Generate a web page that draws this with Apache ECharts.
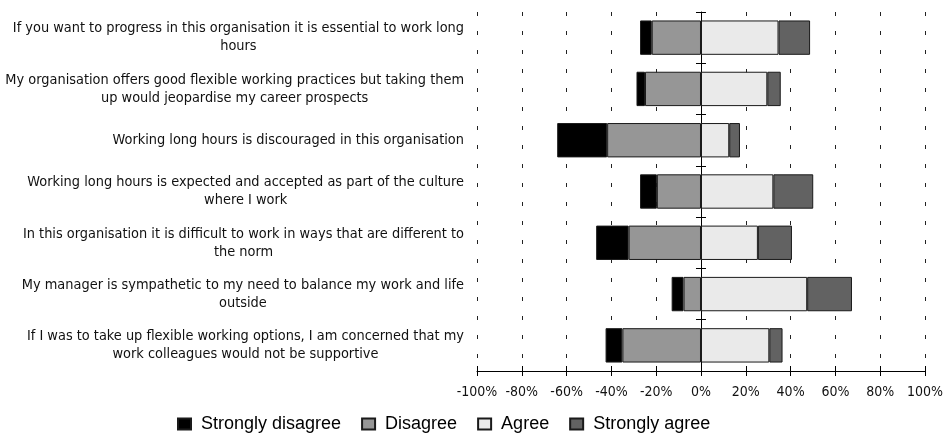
<!DOCTYPE html>
<html>
<head>
<meta charset="utf-8">
<script src="https://cdn.jsdelivr.net/npm/echarts@6/dist/echarts.min.js"></script>
<style>
  html, body { margin: 0; padding: 0; background: #fff; }
  #chart { width: 946px; height: 438px; }
</style>
</head>
<body>
<div id="chart"></div>
<script>
// Survey statements, top to bottom
const statements = [
  "If you want to progress in this organisation it is essential to work long\nhours",
  "My organisation offers good flexible working practices but taking them\nup would jeopardise my career prospects",
  "Working long hours is discouraged in this organisation",
  "Working long hours is expected and accepted as part of the culture\nwhere I work",
  "In this organisation it is difficult to work in ways that are different to\nthe norm",
  "My manager is sympathetic to my need to balance my work and life\noutside",
  "If I was to take up flexible working options, I am concerned that my\nwork colleagues would not be supportive"
];

// Share of respondents (%) per answer
const stronglyDisagree = [5.2, 3.8, 22.3, 7.5, 14.5, 5.3, 7.5];
const disagree         = [22.0, 25.0, 41.9, 19.7, 32.3, 7.8, 35.1];
const agree            = [34.6, 29.6, 12.6, 32.3, 25.4, 47.4, 30.5];
const stronglyAgree    = [14.1, 6.0, 4.8, 17.8, 15.2, 20.0, 5.9];

const legendNames = ["Strongly disagree", "Disagree", "Agree", "Strongly agree"];
const axisMin = -100, axisMax = 100, axisStep = 20;

const labelFont = "'DejaVu Sans Condensed', 'DejaVu Sans', sans-serif";
const labelSize = 14.4;
const negate = arr => arr.map(v => -v);

const chart = echarts.init(document.getElementById('chart'), null, { renderer: 'canvas' });

const barBase = {
  type: 'bar',
  xAxisIndex: 0,
  yAxisIndex: 0,
  barCategoryGap: '33%',
  animation: false
};

chart.setOption({
  backgroundColor: '#ffffff',
  animation: false,
  grid: { left: 477, right: 16, top: 12, bottom: 67, containLabel: false },
  legend: {
    data: legendNames,
    icon: 'rect',
    left: 172,
    top: 410,
    itemWidth: 13,
    itemHeight: 11,
    itemGap: 20,
    textStyle: {
      fontFamily: "'Liberation Sans', Arial, sans-serif", fontSize: 18, color: '#000',
      padding: [0, 0, 0, 5]
    }
  },
  xAxis: [
    {
      type: 'value',
      min: axisMin, max: axisMax, interval: axisStep,
      position: 'bottom',
      axisLine: { show: true, lineStyle: { color: '#000', width: 1 } },
      axisTick: { show: true, length: 5, lineStyle: { color: '#000' } },
      axisLabel: {
        formatter: v => v + '%',
        margin: 14,
        fontFamily: labelFont, fontSize: 14, color: '#111'
      },
      splitLine: { show: true, lineStyle: { color: '#222', width: 1, type: [4, 15] } }
    },
    {
      type: 'value',
      min: axisMin, max: axisMax, interval: axisStep,
      position: 'bottom',
      axisLine: { show: false },
      axisTick: { show: true, inside: true, length: 5, lineStyle: { color: '#000' } },
      axisLabel: { show: false },
      splitLine: { show: false }
    }
  ],
  yAxis: [
    {
      type: 'category',
      data: statements,
      inverse: true,
      position: 'left',
      axisLine: { show: false, onZero: false },
      axisTick: { show: false },
      splitLine: { show: false },
      axisLabel: {
        margin: 13,
        fontFamily: labelFont, fontSize: labelSize, color: '#111',
        lineHeight: 18,
        formatter: v => v.split('\n').map(line => '{c|' + line + '}').join('\n'),
        rich: { c: { align: 'center', fontFamily: labelFont, fontSize: labelSize, lineHeight: 18, color: '#111' } }
      }
    },
    {
      type: 'category',
      data: statements,
      inverse: true,
      position: 'left',
      axisLine: { show: true, onZero: true, lineStyle: { color: '#000', width: 1 } },
      axisTick: { show: true, length: 5, lineStyle: { color: '#000' } },
      axisLabel: { show: false },
      splitLine: { show: false }
    },
    {
      type: 'category',
      data: statements,
      inverse: true,
      position: 'left',
      axisLine: { show: false, onZero: true },
      axisTick: { show: true, inside: true, length: 5, lineStyle: { color: '#000' } },
      axisLabel: { show: false },
      splitLine: { show: false }
    }
  ],
  series: [
    Object.assign({}, barBase, {
      name: 'Disagree', stack: 'answers', data: negate(disagree),
      itemStyle: { color: '#969696', borderColor: '#1a1a1a', borderWidth: 1 }
    }),
    Object.assign({}, barBase, {
      name: 'Strongly disagree', stack: 'answers', data: negate(stronglyDisagree),
      itemStyle: { color: '#000000', borderColor: '#1a1a1a', borderWidth: 1 }
    }),
    Object.assign({}, barBase, {
      name: 'Agree', stack: 'answers', data: agree,
      itemStyle: { color: '#eaeaea', borderColor: '#1a1a1a', borderWidth: 1 }
    }),
    Object.assign({}, barBase, {
      name: 'Strongly agree', stack: 'answers', data: stronglyAgree,
      itemStyle: { color: '#626262', borderColor: '#1a1a1a', borderWidth: 1 }
    })
  ]
});
</script>
</body>
</html>
